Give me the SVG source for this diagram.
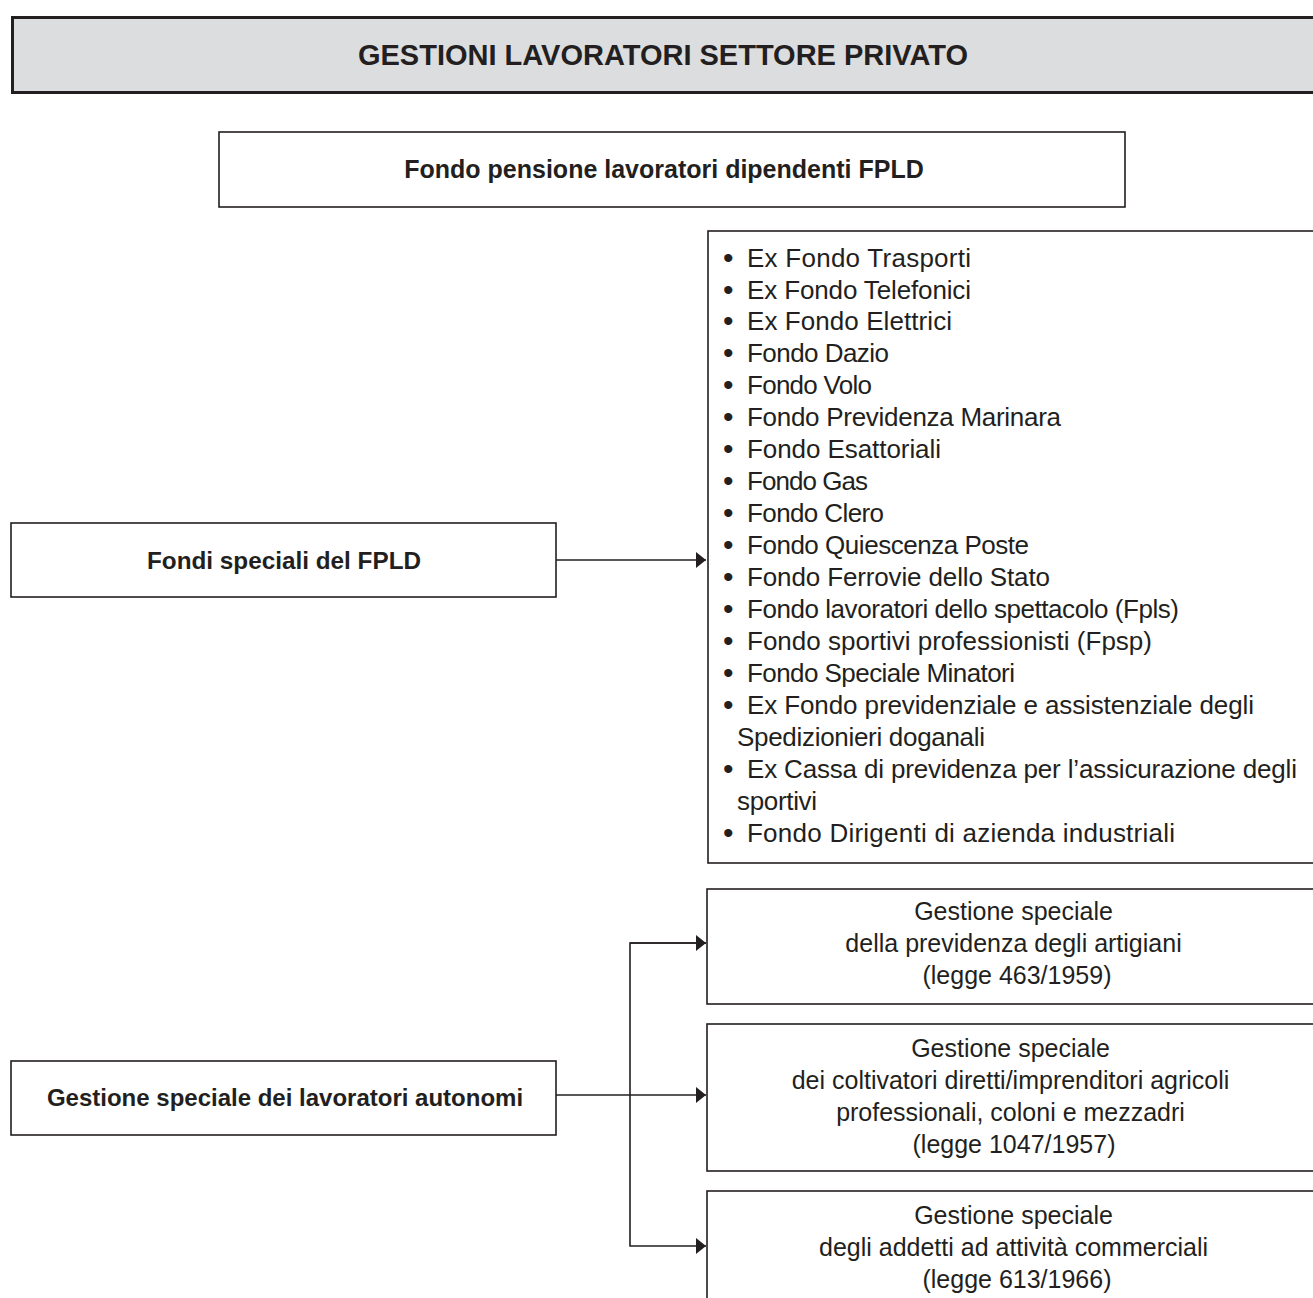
<svg xmlns="http://www.w3.org/2000/svg" width="1313" height="1298" viewBox="0 0 1313 1298">
<defs>
<style>
.box{fill:#fff;stroke:#231f20;stroke-width:1.6}
.hdr{fill:#dcdddf;stroke:#231f20;stroke-width:3}
.b{font-family:"Liberation Sans",Arial,sans-serif;font-weight:bold;fill:#231f20;text-anchor:middle}
.r{font-family:"Liberation Sans",Arial,sans-serif;fill:#231f20;font-size:25px}
.l{font-family:"Liberation Sans",Arial,sans-serif;fill:#231f20;font-size:26px}
.d{font-size:30px}
.c{text-anchor:middle}
.ln{fill:none;stroke:#231f20;stroke-width:1.6}
</style>
<marker id="ah" viewBox="0 0 10 16" refX="10" refY="8" markerWidth="10" markerHeight="16" markerUnits="userSpaceOnUse" orient="auto">
<path d="M0,0 L10,8 L0,16 Z" fill="#231f20"/>
</marker>
</defs>
<rect width="1313" height="1298" fill="#fff"/>
<g id="header">
<rect class="hdr" x="12.5" y="17.5" width="1320" height="75"/>
<text class="b" x="663" y="65" font-size="29">GESTIONI LAVORATORI SETTORE PRIVATO</text>
</g>
<g id="fpld">
<rect class="box" x="219" y="132" width="906" height="75"/>
<text class="b" x="664" y="178" font-size="25">Fondo pensione lavoratori dipendenti FPLD</text>
</g>
<g id="fondi-speciali">
<rect class="box" x="11" y="523" width="545" height="74"/>
<text class="b" x="284" y="569" font-size="24.3">Fondi speciali del FPLD</text>
</g>
<g id="elenco-fondi">
<rect class="box" x="708" y="231" width="620" height="632"/>
<text class="l">
<tspan class="d" x="723" y="268">•</tspan><tspan x="747" y="267" textLength="224">Ex Fondo Trasporti</tspan>
<tspan class="d" x="723" y="300">•</tspan><tspan x="747" y="299" textLength="224">Ex Fondo Telefonici</tspan>
<tspan class="d" x="723" y="331">•</tspan><tspan x="747" y="330" textLength="205">Ex Fondo Elettrici</tspan>
<tspan class="d" x="723" y="363">•</tspan><tspan x="747" y="362" textLength="142">Fondo Dazio</tspan>
<tspan class="d" x="723" y="395">•</tspan><tspan x="747" y="394" textLength="125">Fondo Volo</tspan>
<tspan class="d" x="723" y="427">•</tspan><tspan x="747" y="426" textLength="314">Fondo Previdenza Marinara</tspan>
<tspan class="d" x="723" y="459">•</tspan><tspan x="747" y="458" textLength="194">Fondo Esattoriali</tspan>
<tspan class="d" x="723" y="491">•</tspan><tspan x="747" y="490" textLength="121">Fondo Gas</tspan>
<tspan class="d" x="723" y="523">•</tspan><tspan x="747" y="522" textLength="137">Fondo Clero</tspan>
<tspan class="d" x="723" y="555">•</tspan><tspan x="747" y="554" textLength="282">Fondo Quiescenza Poste</tspan>
<tspan class="d" x="723" y="587">•</tspan><tspan x="747" y="586" textLength="303">Fondo Ferrovie dello Stato</tspan>
<tspan class="d" x="723" y="619">•</tspan><tspan x="747" y="618" textLength="432">Fondo lavoratori dello spettacolo (Fpls)</tspan>
<tspan class="d" x="723" y="651">•</tspan><tspan x="747" y="650" textLength="405">Fondo sportivi professionisti (Fpsp)</tspan>
<tspan class="d" x="723" y="683">•</tspan><tspan x="747" y="682" textLength="268">Fondo Speciale Minatori</tspan>
<tspan class="d" x="723" y="715">•</tspan><tspan x="747" y="714" textLength="507">Ex Fondo previdenziale e assistenziale degli</tspan>
<tspan x="737" y="746" textLength="248">Spedizionieri doganali</tspan>
<tspan class="d" x="723" y="779">•</tspan><tspan x="747" y="778" textLength="550">Ex Cassa di previdenza per l’assicurazione degli</tspan>
<tspan x="737" y="810" textLength="80">sportivi</tspan>
<tspan class="d" x="723" y="843">•</tspan><tspan x="747" y="842" textLength="428">Fondo Dirigenti di azienda industriali</tspan>
</text>
</g>
<g id="autonomi">
<rect class="box" x="11" y="1061" width="545" height="74"/>
<text class="b" x="285" y="1106" font-size="24">Gestione speciale dei lavoratori autonomi</text>
</g>
<g id="artigiani">
<rect class="box" x="707" y="889" width="620" height="115"/>
<text class="r c">
<tspan x="1017" y="920">Gestione speciale</tspan>
<tspan x="1017" y="952">della previdenza degli artigiani</tspan>
<tspan x="1017" y="984">(legge 463/1959)</tspan>
</text>
</g>
<g id="coltivatori">
<rect class="box" x="707" y="1024" width="620" height="147"/>
<text class="r c">
<tspan x="1014" y="1057">Gestione speciale</tspan>
<tspan x="1014" y="1089">dei coltivatori diretti/imprenditori agricoli</tspan>
<tspan x="1014" y="1121">professionali, coloni e mezzadri</tspan>
<tspan x="1014" y="1153">(legge 1047/1957)</tspan>
</text>
</g>
<g id="commercianti">
<rect class="box" x="707" y="1191" width="620" height="130"/>
<text class="r c">
<tspan x="1017" y="1224">Gestione speciale</tspan>
<tspan x="1017" y="1256">degli addetti ad attività commerciali</tspan>
<tspan x="1017" y="1288">(legge 613/1966)</tspan>
</text>
</g>
<g id="connectors">
<path class="ln" d="M556,560 H706" marker-end="url(#ah)"/>
<path class="ln" d="M556,1095 H706" marker-end="url(#ah)"/>
<path class="ln" d="M706,943 H630 V1246 H706" marker-end="url(#ah)"/>
<path class="ln" d="M630,943 H706" marker-end="url(#ah)"/>
</g>
</svg>
